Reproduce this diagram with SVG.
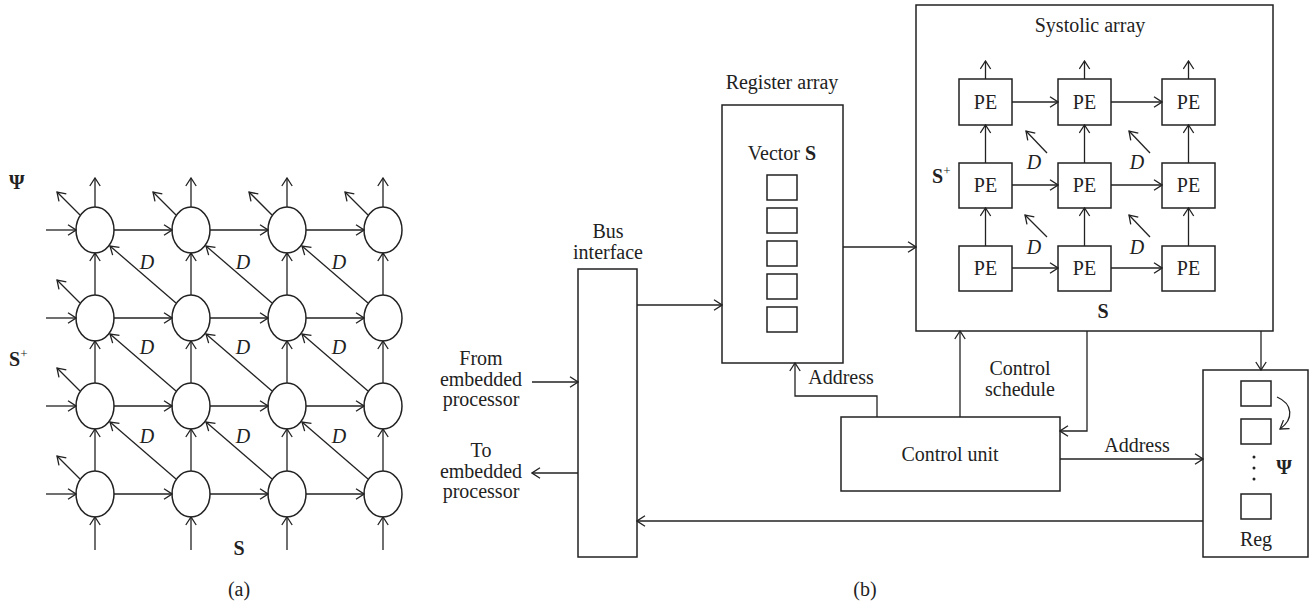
<svg xmlns="http://www.w3.org/2000/svg" width="1315" height="602" viewBox="0 0 1315 602">
<defs>
<marker id="ah" viewBox="0 0 10 12" refX="9" refY="6" markerWidth="10" markerHeight="12" markerUnits="userSpaceOnUse" orient="auto">
<path d="M1,0.8 L9,6 L1,11.2" fill="none" stroke="#222" stroke-width="1.3"/>
</marker>
<style>
.ln{stroke:#222;stroke-width:1.3;fill:none}
.a{marker-end:url(#ah)}
.bx{fill:#fff;stroke:#222;stroke-width:1.5}
.nd{fill:#fff;stroke:#222;stroke-width:1.5}
text{font-family:"Liberation Serif","Times New Roman",serif;font-size:20px;fill:#222}
.c{text-anchor:middle}
.b{font-weight:bold}
.i{font-style:italic}
</style>
</defs>
<rect width="1315" height="602" fill="#fff"/>

<!-- (a) nodes -->
<g id="a-nodes">
<g id="n11"><ellipse class="nd" cx="95" cy="230" rx="19" ry="23"/></g>
<g id="n12"><ellipse class="nd" cx="191" cy="230" rx="19" ry="23"/></g>
<g id="n13"><ellipse class="nd" cx="287" cy="230" rx="19" ry="23"/></g>
<g id="n14"><ellipse class="nd" cx="383" cy="230" rx="19" ry="23"/></g>
<g id="n21"><ellipse class="nd" cx="95" cy="318" rx="19" ry="23"/></g>
<g id="n22"><ellipse class="nd" cx="191" cy="318" rx="19" ry="23"/></g>
<g id="n23"><ellipse class="nd" cx="287" cy="318" rx="19" ry="23"/></g>
<g id="n24"><ellipse class="nd" cx="383" cy="318" rx="19" ry="23"/></g>
<g id="n31"><ellipse class="nd" cx="95" cy="406" rx="19" ry="23"/></g>
<g id="n32"><ellipse class="nd" cx="191" cy="406" rx="19" ry="23"/></g>
<g id="n33"><ellipse class="nd" cx="287" cy="406" rx="19" ry="23"/></g>
<g id="n34"><ellipse class="nd" cx="383" cy="406" rx="19" ry="23"/></g>
<g id="n41"><ellipse class="nd" cx="95" cy="494" rx="19" ry="23"/></g>
<g id="n42"><ellipse class="nd" cx="191" cy="494" rx="19" ry="23"/></g>
<g id="n43"><ellipse class="nd" cx="287" cy="494" rx="19" ry="23"/></g>
<g id="n44"><ellipse class="nd" cx="383" cy="494" rx="19" ry="23"/></g>
</g>

<g id="a-connectors" class="ln">
<!-- left inputs -->
<line class="a" x1="46" y1="230" x2="76" y2="230"/>
<line class="a" x1="46" y1="318" x2="76" y2="318"/>
<line class="a" x1="46" y1="406" x2="76" y2="406"/>
<line class="a" x1="46" y1="494" x2="76" y2="494"/>
<!-- horizontal -->
<line class="a" x1="114" y1="230" x2="172" y2="230"/>
<line class="a" x1="210" y1="230" x2="268" y2="230"/>
<line class="a" x1="306" y1="230" x2="364" y2="230"/>
<line class="a" x1="114" y1="318" x2="172" y2="318"/>
<line class="a" x1="210" y1="318" x2="268" y2="318"/>
<line class="a" x1="306" y1="318" x2="364" y2="318"/>
<line class="a" x1="114" y1="406" x2="172" y2="406"/>
<line class="a" x1="210" y1="406" x2="268" y2="406"/>
<line class="a" x1="306" y1="406" x2="364" y2="406"/>
<line class="a" x1="114" y1="494" x2="172" y2="494"/>
<line class="a" x1="210" y1="494" x2="268" y2="494"/>
<line class="a" x1="306" y1="494" x2="364" y2="494"/>
<!-- top outputs -->
<line class="a" x1="95" y1="207" x2="95" y2="178"/>
<line class="a" x1="191" y1="207" x2="191" y2="178"/>
<line class="a" x1="287" y1="207" x2="287" y2="178"/>
<line class="a" x1="383" y1="207" x2="383" y2="178"/>
<!-- vertical between rows -->
<line class="a" x1="95" y1="295" x2="95" y2="253"/>
<line class="a" x1="191" y1="295" x2="191" y2="253"/>
<line class="a" x1="287" y1="295" x2="287" y2="253"/>
<line class="a" x1="383" y1="295" x2="383" y2="253"/>
<line class="a" x1="95" y1="383" x2="95" y2="341"/>
<line class="a" x1="191" y1="383" x2="191" y2="341"/>
<line class="a" x1="287" y1="383" x2="287" y2="341"/>
<line class="a" x1="383" y1="383" x2="383" y2="341"/>
<line class="a" x1="95" y1="471" x2="95" y2="429"/>
<line class="a" x1="191" y1="471" x2="191" y2="429"/>
<line class="a" x1="287" y1="471" x2="287" y2="429"/>
<line class="a" x1="383" y1="471" x2="383" y2="429"/>
<!-- bottom inputs -->
<line class="a" x1="95" y1="550" x2="95" y2="517"/>
<line class="a" x1="191" y1="550" x2="191" y2="517"/>
<line class="a" x1="287" y1="550" x2="287" y2="517"/>
<line class="a" x1="383" y1="550" x2="383" y2="517"/>
<!-- short diagonals -->
<line class="a" x1="80" y1="215" x2="57" y2="192"/>
<line class="a" x1="176" y1="215" x2="153" y2="192"/>
<line class="a" x1="272" y1="215" x2="249" y2="192"/>
<line class="a" x1="368" y1="215" x2="345" y2="192"/>
<line class="a" x1="80" y1="303" x2="57" y2="280"/>
<line class="a" x1="80" y1="391" x2="57" y2="368"/>
<line class="a" x1="80" y1="479" x2="57" y2="456"/>
<!-- long diagonals -->
<line class="a" x1="176" y1="303" x2="110" y2="246"/>
<line class="a" x1="272" y1="303" x2="206" y2="246"/>
<line class="a" x1="368" y1="303" x2="302" y2="246"/>
<line class="a" x1="176" y1="391" x2="110" y2="334"/>
<line class="a" x1="272" y1="391" x2="206" y2="334"/>
<line class="a" x1="368" y1="391" x2="302" y2="334"/>
<line class="a" x1="176" y1="479" x2="110" y2="422"/>
<line class="a" x1="272" y1="479" x2="206" y2="422"/>
<line class="a" x1="368" y1="479" x2="302" y2="422"/>
</g>

<g id="a-labels">
<text class="b" x="9" y="189">Ψ</text>
<text class="b" x="9" y="366">S<tspan font-size="13" font-weight="normal" dy="-8">+</tspan></text>
<text class="i c" x="147" y="269">D</text>
<text class="i c" x="243" y="269">D</text>
<text class="i c" x="339" y="269">D</text>
<text class="i c" x="147" y="354">D</text>
<text class="i c" x="243" y="354">D</text>
<text class="i c" x="339" y="354">D</text>
<text class="i c" x="147" y="443">D</text>
<text class="i c" x="243" y="443">D</text>
<text class="i c" x="339" y="443">D</text>
<text class="b c" x="239" y="555">S</text>
<text class="c" x="239" y="596">(a)</text>
</g>

<!-- (b) -->
<g id="bus">
<rect class="bx" x="578" y="269" width="59" height="288"/>
<text class="c" x="608" y="238">Bus</text>
<text class="c" x="608" y="259">interface</text>
</g>
<g id="from-label">
<text class="c" x="481" y="365">From</text>
<text class="c" x="481" y="386">embedded</text>
<text class="c" x="481" y="406">processor</text>
</g>
<g id="to-label">
<text class="c" x="481" y="457">To</text>
<text class="c" x="481" y="478">embedded</text>
<text class="c" x="481" y="498">processor</text>
</g>
<g id="register-array">
<rect class="bx" x="722" y="105" width="121" height="258"/>
<text class="c" x="782" y="89">Register array</text>
<text class="c" x="782" y="160">Vector <tspan class="b">S</tspan></text>
<rect class="bx" x="767" y="175" width="30" height="25"/>
<rect class="bx" x="767" y="208" width="30" height="25"/>
<rect class="bx" x="767" y="241" width="30" height="25"/>
<rect class="bx" x="767" y="274" width="30" height="25"/>
<rect class="bx" x="767" y="307" width="30" height="25"/>
</g>
<g id="systolic-array">
<rect class="bx" x="916" y="5" width="357" height="326"/>
<text class="c" x="1090" y="32">Systolic array</text>
<text class="b" x="932" y="183">S<tspan font-size="13" font-weight="normal" dy="-8">+</tspan></text>
<text class="b c" x="1103" y="318">S</text>
</g>
<g id="pe11"><rect class="bx" x="959" y="79" width="53" height="46"/><text class="c" x="985.5" y="109">PE</text></g>
<g id="pe12"><rect class="bx" x="1058" y="79" width="53" height="46"/><text class="c" x="1084.5" y="109">PE</text></g>
<g id="pe13"><rect class="bx" x="1162" y="79" width="53" height="46"/><text class="c" x="1188.5" y="109">PE</text></g>
<g id="pe21"><rect class="bx" x="959" y="163" width="53" height="45"/><text class="c" x="985.5" y="192">PE</text></g>
<g id="pe22"><rect class="bx" x="1058" y="163" width="53" height="45"/><text class="c" x="1084.5" y="192">PE</text></g>
<g id="pe23"><rect class="bx" x="1162" y="163" width="53" height="45"/><text class="c" x="1188.5" y="192">PE</text></g>
<g id="pe31"><rect class="bx" x="959" y="246" width="53" height="45"/><text class="c" x="985.5" y="275">PE</text></g>
<g id="pe32"><rect class="bx" x="1058" y="246" width="53" height="45"/><text class="c" x="1084.5" y="275">PE</text></g>
<g id="pe33"><rect class="bx" x="1162" y="246" width="53" height="45"/><text class="c" x="1188.5" y="275">PE</text></g>
<g id="systolic-d">
<text class="i c" x="1034" y="169">D</text>
<text class="i c" x="1137" y="169">D</text>
<text class="i c" x="1034" y="254">D</text>
<text class="i c" x="1137" y="254">D</text>
</g>
<g id="control-unit">
<rect class="bx" x="841" y="417" width="219" height="74"/>
<text class="c" x="950" y="461">Control unit</text>
</g>
<g id="reg">
<rect class="bx" x="1203" y="370" width="105" height="187"/>
<rect class="bx" x="1241" y="381" width="30" height="25"/>
<rect class="bx" x="1241" y="419" width="30" height="25"/>
<rect class="bx" x="1241" y="494" width="30" height="25"/>
<circle cx="1254" cy="457" r="1.5" fill="#222"/>
<circle cx="1254" cy="468" r="1.5" fill="#222"/>
<circle cx="1254" cy="479" r="1.5" fill="#222"/>
<text class="b c" x="1284" y="474">Ψ</text>
<text class="c" x="1256" y="546">Reg</text>
</g>

<g id="b-connectors" class="ln">
<line class="a" x1="532" y1="382" x2="578" y2="382"/>
<line class="a" x1="578" y1="473" x2="532" y2="473"/>
<line class="a" x1="637" y1="305" x2="722" y2="305"/>
<line class="a" x1="843" y1="247" x2="916" y2="247"/>
<line class="a" x1="1261" y1="331" x2="1261" y2="370"/>
<polyline class="a" points="1087,331 1087,431 1060,431"/>
<line class="a" x1="960" y1="417" x2="960" y2="331"/>
<line class="a" x1="1060" y1="459" x2="1203" y2="459"/>
<polyline class="a" points="877,417 877,396 795,396 795,363"/>
<line class="a" x1="1203" y1="521" x2="637" y2="521"/>
<path class="a" d="M1277,397 C1293,404 1294,419 1280,429"/>
<!-- systolic internal -->
<line class="a" x1="985.5" y1="79" x2="985.5" y2="61"/>
<line class="a" x1="1084.5" y1="79" x2="1084.5" y2="61"/>
<line class="a" x1="1188.5" y1="79" x2="1188.5" y2="61"/>
<line class="a" x1="1012" y1="102" x2="1058" y2="102"/>
<line class="a" x1="1111" y1="102" x2="1162" y2="102"/>
<line class="a" x1="1012" y1="185" x2="1058" y2="185"/>
<line class="a" x1="1111" y1="185" x2="1162" y2="185"/>
<line class="a" x1="1012" y1="268" x2="1058" y2="268"/>
<line class="a" x1="1111" y1="268" x2="1162" y2="268"/>
<line class="a" x1="985.5" y1="163" x2="985.5" y2="125"/>
<line class="a" x1="1084.5" y1="163" x2="1084.5" y2="125"/>
<line class="a" x1="1188.5" y1="163" x2="1188.5" y2="125"/>
<line class="a" x1="985.5" y1="246" x2="985.5" y2="208"/>
<line class="a" x1="1084.5" y1="246" x2="1084.5" y2="208"/>
<line class="a" x1="1188.5" y1="246" x2="1188.5" y2="208"/>
<line class="a" x1="1047" y1="153" x2="1026" y2="131"/>
<line class="a" x1="1150" y1="153" x2="1129" y2="131"/>
<line class="a" x1="1047" y1="237" x2="1025" y2="215"/>
<line class="a" x1="1150" y1="237" x2="1129" y2="215"/>
</g>
<g id="b-labels">
<text class="c" x="1020" y="375">Control</text>
<text class="c" x="1020" y="396">schedule</text>
<text class="c" x="841" y="384">Address</text>
<text class="c" x="1137" y="452">Address</text>
<text class="c" x="865" y="596">(b)</text>
</g>
</svg>
